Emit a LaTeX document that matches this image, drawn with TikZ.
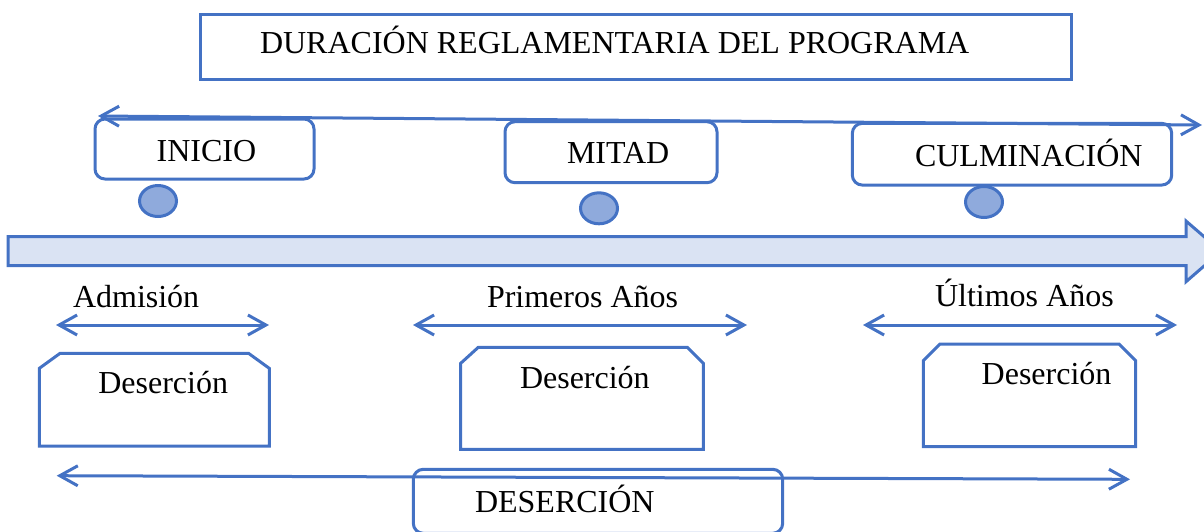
\documentclass[tikz,border=0pt]{standalone}
\usepackage{fontspec}
\setmainfont{Liberation Serif}
\usetikzlibrary{arrows.meta,shapes.geometric,calc}
\definecolor{lineblue}{HTML}{4472C4}
\definecolor{barfill}{HTML}{DAE3F3}
\definecolor{dotfill}{HTML}{8FAADC}
\begin{document}
\begin{tikzpicture}[x=1pt,y=-1pt,
  lbl/.style={font=\fontsize{32}{38}\selectfont, inner sep=0pt, outer sep=0pt, anchor=base west, text=black},
  rbox/.style={draw=lineblue, line width=3pt, rounded corners=10pt, fill=white, inner sep=0pt, outer sep=0pt},
  sqbox/.style={draw=lineblue, line width=3pt, fill=white, inner sep=0pt, outer sep=0pt},
  chamf/.style={draw=none, inner sep=0pt, outer sep=0pt},
  chline/.style={draw=lineblue, line width=3pt, line join=miter},
  dot/.style={ellipse, draw=lineblue, line width=3pt, fill=dotfill, inner sep=0pt, minimum width=37pt, minimum height=31pt},
  conn/.style={draw=lineblue, line width=3pt, {Straight Barb[length=18pt,width=20pt]}-{Straight Barb[length=18pt,width=20pt]}},
  bigarrow/.style={draw=lineblue, line width=3pt, fill=barfill, line join=miter}
]
\useasboundingbox (0,0) rectangle (1204,531);
\clip (0,0) rectangle (1204,531);

% title
\node[sqbox, minimum width=871pt, minimum height=65pt] (title) at (636.3,46.5) {};
\node[lbl] (titlet) at (260,53.3) {DURACIÓN REGLAMENTARIA DEL PROGRAMA};

% big timeline arrow
\draw[bigarrow] (8,236.7) -- (1186,236.7) -- (1186,221) -- (1221,251.3)
  -- (1186,281.7) -- (1186,265.7) -- (8,265.7) -- cycle;

% stage boxes
\node[rbox, minimum width=219pt, minimum height=60pt] (inicio) at (204.5,149) {};
\node[lbl] (iniciot) at (156.7,161.7) {INICIO};
\node[rbox, minimum width=212pt, minimum height=61pt] (mitad) at (611,152.2) {};
\node[lbl] (mitadt) at (567,163) {MITAD};
\node[rbox, minimum width=319.4pt, minimum height=61.7pt] (culm) at (1012,154.2) {};
\node[lbl] (culmt) at (915,166) {CULMINACIÓN};

% dots
\node[dot] (dot1) at (158,201) {};
\node[dot] (dot2) at (599,208.3) {};
\node[dot] (dot3) at (984,202) {};

% top duration arrow
\coordinate (topL) at (98,116);
\coordinate (topR) at (1202,125);
\draw[conn] (topL) -- (topR);

% period labels and arrows
\node[lbl] (adm) at (73,307.3) {Admisión};
\node[lbl] (prim) at (487,307.3) {Primeros Años};
\node[lbl] (ult) at (935,306.3) {Últimos Años};
\coordinate (a1L) at (56,325); \coordinate (a1R) at (269,325);
\coordinate (a2L) at (413,325); \coordinate (a2R) at (747,325);
\coordinate (a3L) at (863,325); \coordinate (a3R) at (1177,325);
\draw[conn] (a1L) -- (a1R);
\draw[conn] (a2L) -- (a2R);
\draw[conn] (a3L) -- (a3R);

% chamfered boxes
\node[chamf, minimum width=230pt, minimum height=92.7pt] (d1) at (154.3,399.7) {};
\draw[chline] ($(d1.south west)$) -- ($(d1.north west)+(0,15)$) -- ($(d1.north west)+(20.7,0)$)
  -- ($(d1.north east)+(-20.7,0)$) -- ($(d1.north east)+(0,15)$) -- ($(d1.south east)$) -- cycle;
\node[lbl] (d1t) at (98.3,393.3) {Deserción};

\node[chamf, minimum width=242.6pt, minimum height=102pt] (d2) at (582,398.3) {};
\draw[chline] ($(d2.south west)$) -- ($(d2.north west)+(0,16)$) -- ($(d2.north west)+(17.6,0)$)
  -- ($(d2.north east)+(-16,0)$) -- ($(d2.north east)+(0,16)$) -- ($(d2.south east)$) -- cycle;
\node[lbl] (d2t) at (520,388.3) {Deserción};

\node[chamf, minimum width=212.4pt, minimum height=102.7pt] (d3) at (1029.5,395.35) {};
\draw[chline] ($(d3.south west)$) -- ($(d3.north west)+(0,16.7)$) -- ($(d3.north west)+(16.7,0)$)
  -- ($(d3.north east)+(-16.7,0)$) -- ($(d3.north east)+(0,16.7)$) -- ($(d3.south east)$) -- cycle;
\node[lbl] (d3t) at (981.7,384) {Deserción};

% bottom arrow and DESERCIÓN box
\coordinate (botL) at (56.7,475.7);
\coordinate (botR) at (1130,479.3);
\draw[conn] (botL) -- (botR);
\node[rbox, fill=none, minimum width=369.4pt, minimum height=64pt] (des) at (598,501.3) {};
\node[lbl] (dest) at (475,512.7) {DESERCIÓN};
\end{tikzpicture}
\end{document}
